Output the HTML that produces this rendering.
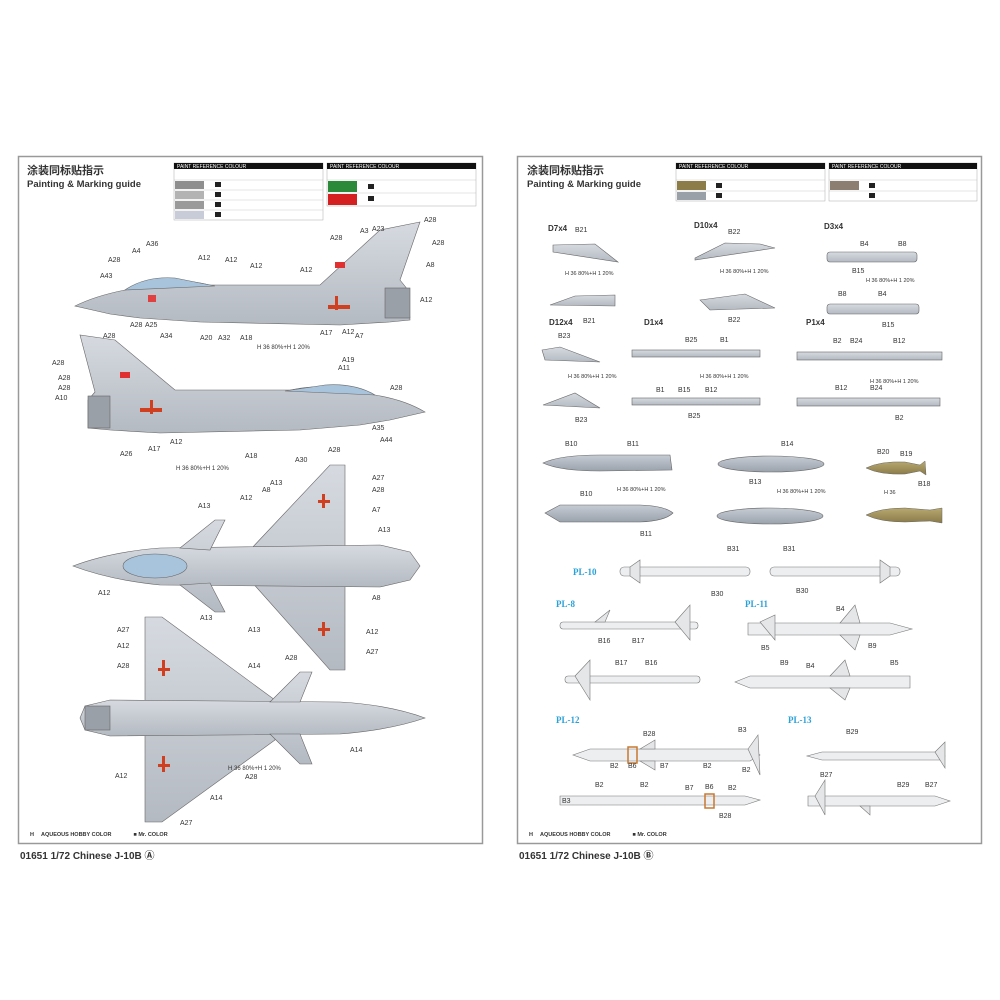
<!DOCTYPE html>
<html><head><meta charset="utf-8"><style>
html,body{margin:0;padding:0;background:#fff;width:1000px;height:1000px;overflow:hidden}
text{font-family:"Liberation Sans","Noto Sans CJK SC",sans-serif;fill:#333}
.l{font-size:7px}
.t{font-size:5px}
</style></head><body>
<svg width="1000" height="1000" viewBox="0 0 1000 1000" xmlns="http://www.w3.org/2000/svg">
<defs>
<linearGradient id="g" x1="0" y1="0" x2="0" y2="1"><stop offset="0" stop-color="#d6dae0"/><stop offset="1" stop-color="#b4bac2"/></linearGradient>
<linearGradient id="tank" x1="0" y1="0" x2="0" y2="1"><stop offset="0" stop-color="#c6ccd4"/><stop offset="1" stop-color="#9aa2ac"/></linearGradient>
<linearGradient id="gold" x1="0" y1="0" x2="0" y2="1"><stop offset="0" stop-color="#b8a870"/><stop offset="1" stop-color="#8a7a48"/></linearGradient>
</defs>
<rect width="1000" height="1000" fill="#fff"/>
<!-- panels -->
<rect x="18.5" y="156.5" width="464" height="687" fill="#fff" stroke="#999" stroke-width="1.5"/>
<rect x="517.5" y="156.5" width="464" height="687" fill="#fff" stroke="#999" stroke-width="1.5"/>
<text x="27" y="174" font-size="11" font-weight="bold" fill="#444">涂装同标贴指示</text>
<text x="27" y="187" font-size="9.5" font-weight="bold" fill="#222">Painting &amp; Marking guide</text>
<text x="527" y="174" font-size="11" font-weight="bold" fill="#444">涂装同标贴指示</text>
<text x="527" y="187" font-size="9.5" font-weight="bold" fill="#222">Painting &amp; Marking guide</text>

<!-- left tables -->
<g stroke="#aaa" stroke-width="0.5" fill="none">
<rect x="174" y="163" width="149" height="57"/><rect x="327" y="163" width="149" height="43"/>
<rect x="676" y="163" width="149" height="38"/><rect x="829" y="163" width="148" height="38"/>
</g>
<rect x="174" y="163" width="149" height="6" fill="#111"/><rect x="327" y="163" width="149" height="6" fill="#111"/>
<rect x="676" y="163" width="149" height="6" fill="#111"/><rect x="829" y="163" width="148" height="6" fill="#111"/>
<text x="177" y="168" class="t" fill="#fff" style="fill:#fff">PAINT REFERENCE COLOUR</text>
<text x="330" y="168" class="t" style="fill:#fff">PAINT REFERENCE COLOUR</text>
<text x="679" y="168" class="t" style="fill:#fff">PAINT REFERENCE COLOUR</text>
<text x="832" y="168" class="t" style="fill:#fff">PAINT REFERENCE COLOUR</text>
<g stroke="#bbb" stroke-width="0.4">
<line x1="174" y1="180" x2="323" y2="180"/><line x1="174" y1="190" x2="323" y2="190"/><line x1="174" y1="200" x2="323" y2="200"/><line x1="174" y1="210" x2="323" y2="210"/>
<line x1="327" y1="180" x2="476" y2="180"/><line x1="327" y1="193" x2="476" y2="193"/>
<line x1="676" y1="180" x2="825" y2="180"/><line x1="676" y1="191" x2="825" y2="191"/>
<line x1="829" y1="180" x2="977" y2="180"/><line x1="829" y1="191" x2="977" y2="191"/>
</g>
<rect x="175" y="181" width="29" height="8" fill="#8e8e8e"/><rect x="175" y="191" width="29" height="8" fill="#b3b3b3"/><rect x="175" y="201" width="29" height="8" fill="#9a9a9a"/><rect x="175" y="211" width="29" height="8" fill="#c8ccd8"/>
<rect x="328" y="181" width="29" height="11" fill="#2a8a3a"/><rect x="328" y="194" width="29" height="11" fill="#fff"/><rect x="328" y="194" width="29" height="11" fill="#d42020"/>
<rect x="677" y="181" width="29" height="9" fill="#8c7d48"/><rect x="677" y="192" width="29" height="8" fill="#9aa0a8"/>
<rect x="830" y="181" width="29" height="9" fill="#8c7e70"/>
<g fill="#222"><rect x="215" y="182" width="6" height="5"/><rect x="215" y="192" width="6" height="5"/><rect x="215" y="202" width="6" height="5"/><rect x="215" y="212" width="6" height="5"/>
<rect x="368" y="184" width="6" height="5"/><rect x="368" y="196" width="6" height="5"/><rect x="716" y="183" width="6" height="5"/><rect x="716" y="193" width="6" height="5"/><rect x="869" y="183" width="6" height="5"/><rect x="869" y="193" width="6" height="5"/></g>

<!-- Jet 1 (side, nose left) -->
<g stroke="#666" stroke-width="0.6">
<path d="M75,306 Q95,296 125,290 L160,283 Q180,278 210,285 L320,285 L380,230 L420,222 L400,280 L408,290 L410,320 L390,322 L340,325 L200,322 L140,318 L110,314 Z" fill="url(#g)"/>
<path d="M125,290 Q145,276 175,278 L215,286 Z" fill="#a8c4dc"/>
<rect x="385" y="288" width="25" height="30" fill="#9aa0a8"/>
</g>
<rect x="335" y="262" width="10" height="6" fill="#e03030"/><rect x="148" y="295" width="8" height="7" fill="#e04040"/>
<rect x="328" y="305" width="22" height="4" fill="#d04020"/><rect x="335" y="296" width="3" height="14" fill="#d04020"/>
<!-- Jet 2 (side, nose right) -->
<g stroke="#666" stroke-width="0.6">
<path d="M425,412 Q405,400 375,395 L340,389 Q320,384 290,390 L175,390 L115,340 L80,335 L95,392 L88,400 L88,428 L110,430 L160,433 L300,430 L360,425 L390,420 Z" fill="url(#g)"/>
<path d="M375,395 Q355,383 325,385 L285,391 Z" fill="#a8c4dc"/>
<rect x="88" y="396" width="22" height="32" fill="#9aa0a8"/>
</g>
<rect x="120" y="372" width="10" height="6" fill="#e03030"/>
<rect x="140" y="408" width="22" height="4" fill="#d04020"/><rect x="150" y="400" width="3" height="14" fill="#d04020"/>
<!-- Jet 3 (top) -->
<g stroke="#666" stroke-width="0.6">
<path d="M330,465 L345,465 L345,670 L330,670 L250,580 L250,550 Z" fill="url(#g)"/>
<path d="M73,566 Q110,552 160,548 L380,545 L410,552 L420,566 L410,580 L380,587 L160,585 Q110,580 73,566 Z" fill="url(#g)"/>
<path d="M180,548 L215,520 L225,520 L210,550 Z M180,585 L215,612 L225,612 L210,583 Z" fill="url(#g)"/>
<ellipse cx="155" cy="566" rx="32" ry="12" fill="#a8c4dc"/>
</g>
<rect x="318" y="500" width="12" height="3" fill="#d04020"/><rect x="322" y="494" width="3" height="14" fill="#d04020"/>
<rect x="318" y="628" width="12" height="3" fill="#d04020"/><rect x="322" y="622" width="3" height="14" fill="#d04020"/>
<!-- Jet 4 (bottom, nose right) -->
<g stroke="#666" stroke-width="0.6">
<path d="M145,617 L162,617 L275,700 L275,740 L162,822 L145,822 Z" fill="url(#g)"/>
<path d="M425,718 Q390,705 340,702 L110,700 L85,706 L80,718 L85,730 L110,736 L340,734 Q390,730 425,718 Z" fill="url(#g)"/>
<path d="M270,702 L300,672 L312,672 L300,702 Z M270,734 L300,764 L312,764 L300,734 Z" fill="url(#g)"/>
<rect x="85" y="706" width="25" height="24" fill="#9aa0a8"/>
</g>
<rect x="158" y="668" width="12" height="3" fill="#d04020"/><rect x="162" y="660" width="3" height="16" fill="#d04020"/>
<rect x="158" y="764" width="12" height="3" fill="#d04020"/><rect x="162" y="756" width="3" height="16" fill="#d04020"/>

<!-- left labels -->
<g class="l">
<text x="100" y="278">A43</text><text x="108" y="262">A28</text><text x="146" y="246">A36</text><text x="132" y="253">A4</text><text x="198" y="260">A12</text><text x="225" y="262">A12</text><text x="250" y="268">A12</text><text x="300" y="272">A12</text><text x="330" y="240">A28</text><text x="360" y="233">A3</text><text x="372" y="231">A23</text><text x="424" y="222">A28</text><text x="432" y="245">A28</text><text x="426" y="267">A8</text><text x="420" y="302">A12</text>
<text x="103" y="338">A28</text><text x="130" y="327">A28</text><text x="145" y="327">A25</text><text x="160" y="338">A34</text><text x="200" y="340">A20</text><text x="218" y="340">A32</text><text x="240" y="340">A18</text><text x="320" y="335">A17</text><text x="342" y="334">A12</text><text x="355" y="338">A7</text>
<text x="52" y="365">A28</text><text x="58" y="380">A28</text><text x="58" y="390">A28</text><text x="55" y="400">A10</text><text x="342" y="362">A19</text><text x="338" y="370">A11</text><text x="390" y="390">A28</text><text x="372" y="430">A35</text><text x="380" y="442">A44</text>
<text x="170" y="444">A12</text><text x="148" y="451">A17</text><text x="245" y="458">A18</text><text x="295" y="462">A30</text><text x="328" y="452">A28</text><text x="120" y="456">A26</text>
<text x="198" y="508">A13</text><text x="240" y="500">A12</text><text x="262" y="492">A8</text><text x="270" y="485">A13</text><text x="372" y="480">A27</text><text x="372" y="492">A28</text><text x="372" y="512">A7</text><text x="378" y="532">A13</text><text x="98" y="595">A12</text><text x="200" y="620">A13</text><text x="248" y="632">A13</text><text x="372" y="600">A8</text><text x="366" y="634">A12</text><text x="366" y="654">A27</text><text x="285" y="660">A28</text>
<text x="117" y="632">A27</text><text x="117" y="648">A12</text><text x="117" y="668">A28</text><text x="248" y="668">A14</text><text x="350" y="752">A14</text><text x="115" y="778">A12</text><text x="245" y="779">A28</text><text x="210" y="800">A14</text><text x="180" y="825">A27</text>
</g>
<g font-size="6"><text x="176" y="470">H 36 80%+H 1 20%</text><text x="257" y="349">H 36 80%+H 1 20%</text><text x="228" y="770">H 36 80%+H 1 20%</text></g>
<text x="30" y="836" font-size="5.5" font-weight="bold">H 　AQUEOUS HOBBY COLOR　　　　■ Mr. COLOR</text>
<text x="529" y="836" font-size="5.5" font-weight="bold">H 　AQUEOUS HOBBY COLOR　　　　■ Mr. COLOR</text>
<text x="20" y="859" font-size="10" font-weight="bold" fill="#222">01651 1/72 Chinese J-10B Ⓐ</text>
<text x="519" y="859" font-size="10" font-weight="bold" fill="#222">01651 1/72 Chinese J-10B Ⓑ</text>

<!-- right panel stores -->
<g stroke="#666" stroke-width="0.6" fill="url(#g)">
<path d="M553,245 L595,244 L618,262 L553,252 Z"/><path d="M550,305 L575,296 L615,295 L615,306 Z"/>
<path d="M695,258 L725,243 L760,244 L775,248 L695,260 Z"/><path d="M700,300 L745,294 L775,308 L710,310 Z"/>
<rect x="827" y="252" width="90" height="10" rx="3"/><rect x="827" y="304" width="92" height="10" rx="3"/>
<path d="M542,350 L560,347 L600,362 L545,360 Z"/><path d="M543,405 L575,393 L600,408 Z"/>
<rect x="632" y="350" width="128" height="7"/><rect x="632" y="398" width="128" height="7"/>
<rect x="797" y="352" width="145" height="8"/><rect x="797" y="398" width="143" height="8"/>
</g>
<g stroke="#666" stroke-width="0.6" fill="url(#tank)">
<path d="M543,463 Q560,455 600,455 L670,455 L672,470 L600,471 Q560,471 543,463 Z"/>
<path d="M545,513 L560,505 L640,505 Q665,506 673,513 Q665,521 640,522 L560,522 Z"/>
<ellipse cx="771" cy="464" rx="53" ry="8"/><ellipse cx="770" cy="516" rx="53" ry="8"/>
</g>
<g stroke="#666" stroke-width="0.5" fill="url(#gold)">
<path d="M866,468 Q880,461 905,462 L920,465 L925,461 L926,475 L920,471 L905,474 Q880,475 866,468 Z"/>
<path d="M866,515 Q880,508 905,508 L930,510 L942,508 L942,523 L930,521 L905,522 Q880,522 866,515 Z"/>
</g>
<g stroke="#777" stroke-width="0.6" fill="#eceef0">
<rect x="620" y="567" width="130" height="9" rx="4"/><rect x="770" y="567" width="130" height="9" rx="4"/>
<rect x="560" y="622" width="138" height="7" rx="3"/><rect x="565" y="676" width="135" height="7" rx="3"/>
<path d="M748,623 L890,623 L912,629 L890,635 L748,635 Z"/><path d="M750,676 L910,676 L910,688 L750,688 L735,682 Z"/>
<path d="M590,749 L750,749 L760,755 L750,761 L590,761 L573,755 Z"/><path d="M560,796 L745,796 L760,800 L745,805 L560,805 Z"/>
<path d="M822,752 L940,752 L945,756 L940,760 L822,760 L807,756 Z"/><path d="M808,796 L935,796 L950,801 L935,806 L808,806 Z"/>
</g>
<g stroke="#777" stroke-width="0.6" fill="#e4e6e8">
<path d="M630,567 L640,560 L640,583 L630,576Z"/><path d="M890,567 L880,560 L880,583 L890,576Z"/>
<path d="M840,623 L855,605 L860,623 Z"/><path d="M840,635 L855,650 L860,635Z"/><path d="M760,622 L775,615 L775,640Z"/>
<path d="M830,676 L845,660 L850,676Z"/><path d="M830,688 L845,700 L850,688Z"/>
<path d="M748,749 L758,735 L760,775 Z"/><path d="M640,749 L655,740 L655,749Z"/><path d="M640,761 L655,770 L655,761Z"/>
<path d="M935,752 L945,742 L945,768Z"/><path d="M815,796 L825,780 L825,815Z"/><path d="M860,806 L870,815 L870,806Z"/>
<path d="M595,622 L610,610 L605,622Z"/><path d="M675,622 L690,605 L690,640Z"/><path d="M575,676 L590,660 L590,700Z"/>
</g>
<rect x="628" y="747" width="9" height="16" fill="none" stroke="#c87830" stroke-width="1.5"/>
<rect x="705" y="794" width="9" height="14" fill="none" stroke="#c87830" stroke-width="1.5"/>
<g font-family="Liberation Serif" font-size="9" font-weight="bold" fill="#29a0d8">
<text x="573" y="575" style="fill:#29a0d8;font-family:'Liberation Serif',serif">PL-10</text>
<text x="556" y="607" style="fill:#29a0d8;font-family:'Liberation Serif',serif">PL-8</text>
<text x="745" y="607" style="fill:#29a0d8;font-family:'Liberation Serif',serif">PL-11</text>
<text x="556" y="723" style="fill:#29a0d8;font-family:'Liberation Serif',serif">PL-12</text>
<text x="788" y="723" style="fill:#29a0d8;font-family:'Liberation Serif',serif">PL-13</text>
</g>
<g font-size="8" font-weight="bold" fill="#222">
<text x="548" y="231">D7x4</text><text x="694" y="228">D10x4</text><text x="824" y="229">D3x4</text>
<text x="549" y="325">D12x4</text><text x="644" y="325">D1x4</text><text x="806" y="325">P1x4</text>
</g>
<g class="l">
<text x="575" y="232">B21</text><text x="583" y="323">B21</text><text x="728" y="234">B22</text><text x="728" y="322">B22</text>
<text x="860" y="246">B4</text><text x="898" y="246">B8</text><text x="852" y="273">B15</text><text x="838" y="296">B8</text><text x="878" y="296">B4</text><text x="882" y="327">B15</text>
<text x="558" y="338">B23</text><text x="575" y="422">B23</text><text x="685" y="342">B25</text><text x="720" y="342">B1</text><text x="656" y="392">B1</text><text x="678" y="392">B15</text><text x="705" y="392">B12</text><text x="688" y="418">B25</text>
<text x="833" y="343">B2</text><text x="850" y="343">B24</text><text x="893" y="343">B12</text><text x="835" y="390">B12</text><text x="870" y="390">B24</text><text x="895" y="420">B2</text>
<text x="565" y="446">B10</text><text x="627" y="446">B11</text><text x="580" y="496">B10</text><text x="640" y="536">B11</text><text x="781" y="446">B14</text><text x="749" y="484">B13</text>
<text x="877" y="454">B20</text><text x="900" y="456">B19</text><text x="918" y="486">B18</text>
<text x="727" y="551">B31</text><text x="783" y="551">B31</text><text x="711" y="596">B30</text><text x="796" y="593">B30</text>
<text x="598" y="643">B16</text><text x="632" y="643">B17</text><text x="615" y="665">B17</text><text x="645" y="665">B16</text>
<text x="836" y="611">B4</text><text x="761" y="650">B5</text><text x="868" y="648">B9</text><text x="780" y="665">B9</text><text x="806" y="668">B4</text><text x="890" y="665">B5</text>
<text x="643" y="736">B28</text><text x="738" y="732">B3</text><text x="610" y="768">B2</text><text x="628" y="768">B6</text><text x="660" y="768">B7</text><text x="703" y="768">B2</text><text x="742" y="772">B2</text>
<text x="595" y="787">B2</text><text x="640" y="787">B2</text><text x="685" y="790">B7</text><text x="705" y="789">B6</text><text x="728" y="790">B2</text><text x="562" y="803">B3</text><text x="719" y="818">B28</text>
<text x="846" y="734">B29</text><text x="820" y="777">B27</text><text x="897" y="787">B29</text><text x="925" y="787">B27</text>
</g>
<g font-size="5.5"><text x="565" y="275">H 36 80%+H 1 20%</text><text x="720" y="273">H 36 80%+H 1 20%</text><text x="866" y="282">H 36 80%+H 1 20%</text>
<text x="568" y="378">H 36 80%+H 1 20%</text><text x="700" y="378">H 36 80%+H 1 20%</text><text x="870" y="383">H 36 80%+H 1 20%</text>
<text x="617" y="491">H 36 80%+H 1 20%</text><text x="777" y="493">H 36 80%+H 1 20%</text><text x="884" y="494">H 36</text></g>
</svg>
</body></html>
